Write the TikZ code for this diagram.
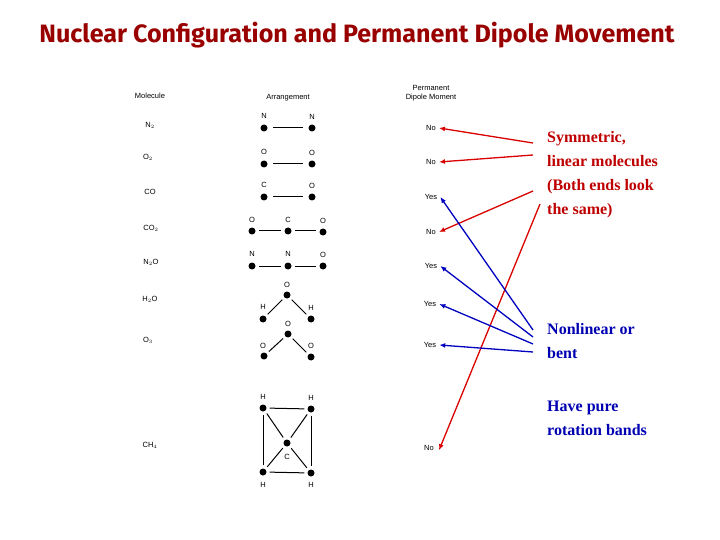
\documentclass[tikz,border=0pt]{standalone}
\usepackage{fontspec}
\usetikzlibrary{arrows.meta}
\setmainfont{Liberation Serif}
\newfontfamily\tabfont{Liberation Sans}
\newfontfamily\ttlfont{Fira Sans}
\begin{document}
\begin{tikzpicture}[x=1pt,y=-1pt,
  lab/.style={font=\tabfont\fontsize{7.5}{8.5}\selectfont, inner sep=0pt},
  atom/.style={circle,fill=black,inner sep=0pt,minimum size=7pt},
  bond/.style={line width=1pt},
  redarr/.style={draw=red!85!black,line width=1.3pt,-{Latex[length=6pt,width=5pt]}},
  bluearr/.style={draw=blue!75!black,line width=1.3pt,-{Latex[length=6pt,width=5pt]}},
  redtxt/.style={font=\bfseries\fontsize{16}{24}\selectfont,text=red!75!black,align=left,anchor=north west,inner sep=0pt},
  bluetxt/.style={font=\bfseries\fontsize{16}{24}\selectfont,text=blue!70!black,align=left,anchor=north west,inner sep=0pt}]
\useasboundingbox (0,0) rectangle (720,540);
\node[text=red!60!black,inner sep=0pt] (title) at (357,35) {\resizebox{635pt}{!}{\ttlfont\bfseries Nuclear Configuration and Permanent Dipole Movement}};
% headers
\node[lab] (hm) at (150,96) {Molecule};
\node[lab] (ha) at (288,98) {Arrangement};
\node[lab,align=center] (hd) at (431,93) {Permanent\\Dipole Moment};
% molecules
\node[lab] (m1) at (150,125) {N$_2$};
\node[lab] (m2) at (148,157) {O$_2$};
\node[lab] (m3) at (150,192) {CO};
\node[lab] (m4) at (151,228) {CO$_2$};
\node[lab] (m5) at (151,262) {N$_2$O};
\node[lab] (m6) at (150,299) {H$_2$O};
\node[lab] (m7) at (148,340) {O$_3$};
\node[lab] (m8) at (150,445) {CH$_4$};
% dipole
\node[lab] (d1) at (431,128) {No};
\node[lab] (d2) at (431,162) {No};
\node[lab] (d3) at (431,197) {Yes};
\node[lab] (d4) at (431,232) {No};
\node[lab] (d5) at (431,266) {Yes};
\node[lab] (d6) at (430,304) {Yes};
\node[lab] (d7) at (430,345) {Yes};
\node[lab] (d8) at (429,448) {No};
% N2
\node[atom] (a1) at (264,128) {}; \node[atom] (b1) at (312,128) {};
\node[lab] at (264,116) {N}; \node[lab] at (312,117) {N};
\draw[bond] (273,128) -- (303,128);
% O2
\node[atom] (a2) at (264,164) {}; \node[atom] (b2) at (312,164) {};
\node[lab] at (264,152) {O}; \node[lab] at (312,153) {O};
\draw[bond] (273,164) -- (303,164);
% CO
\node[atom] (a3) at (264,197) {}; \node[atom] (b3) at (312,197) {};
\node[lab] at (264,185) {C}; \node[lab] at (312,186) {O};
\draw[bond] (273,197) -- (303,197);
% CO2
\node[atom] (a4) at (252,231) {}; \node[atom] (b4) at (288,231) {}; \node[atom] (c4) at (323,232) {};
\node[lab] at (252,220) {O}; \node[lab] at (288,220) {C}; \node[lab] at (323,221) {O};
\draw[bond] (259,231) -- (281,231); \draw[bond] (295,231) -- (316,231);
% N2O
\node[atom] (a5) at (252,266) {}; \node[atom] (b5) at (288,266) {}; \node[atom] (c5) at (323,266) {};
\node[lab] at (252,254) {N}; \node[lab] at (288,254) {N}; \node[lab] at (323,255) {O};
\draw[bond] (259,266) -- (281,266); \draw[bond] (295,266) -- (316,266);
% H2O
\node[atom] (a6) at (263,319) {}; \node[atom] (b6) at (287,295) {}; \node[atom] (c6) at (311,319) {};
\node[lab] at (287,285) {O}; \node[lab] at (263,307) {H}; \node[lab] at (311,308) {H};
\draw[bond,shorten <=3pt,shorten >=3pt] (a6) -- (b6); \draw[bond,shorten <=3pt,shorten >=3pt] (b6) -- (c6);
% O3
\node[atom] (a7) at (264,356) {}; \node[atom] (b7) at (288,334) {}; \node[atom] (c7) at (311,357) {};
\node[lab] at (288,324) {O}; \node[lab] at (263,346) {O}; \node[lab] at (311,346) {O};
\draw[bond,shorten <=3pt,shorten >=3pt] (a7) -- (b7); \draw[bond,shorten <=3pt,shorten >=3pt] (b7) -- (c7);
% CH4
\node[atom] (h1) at (263,408) {}; \node[atom] (h2) at (311,409) {};
\node[atom] (h3) at (263,472) {}; \node[atom] (h4) at (311,473) {};
\node[atom] (cc) at (287,443) {};
\node[lab] at (263,397) {H}; \node[lab] at (311,398) {H};
\node[lab] at (263,485) {H}; \node[lab] at (311,485) {H};
\node[lab] at (287,457) {C};
\foreach \p/\q in {h1/h2,h2/h4,h4/h3,h3/h1,h1/cc,cc/h4,h2/cc,cc/h3}
  \draw[bond,shorten <=3pt,shorten >=3pt] (\p) -- (\q);
% right texts
\node[redtxt] (sym) at (547,131) {Symmetric,\\linear molecules\\(Both ends look\\the same)};
\node[bluetxt] (non) at (547,323) {Nonlinear or\\bent};
\node[bluetxt] (rot) at (547,401) {Have pure\\rotation bands};
\coordinate (r1) at (533,143); \coordinate (r2) at (533,155);
\coordinate (r3) at (533,191); \coordinate (r4) at (540,204);
\coordinate (q1) at (533,330); \coordinate (q2) at (533,337);
\coordinate (q3) at (533,344); \coordinate (q4) at (533,352);
\draw[redarr] (r1) -- ([xshift=3pt]d1.east);
\draw[redarr] (r2) -- ([xshift=3pt]d2.east);
\draw[redarr] (r3) -- ([xshift=3pt]d4.east);
\draw[redarr] (r4) -- ([xshift=5pt,yshift=-5pt]d8.north east);
\draw[bluearr] (q1) -- ([xshift=3pt]d3.east);
\draw[bluearr] (q2) -- ([xshift=3pt]d5.east);
\draw[bluearr] (q3) -- ([xshift=3pt]d6.east);
\draw[bluearr] (q4) -- ([xshift=3pt]d7.east);
\end{tikzpicture}
\end{document}
